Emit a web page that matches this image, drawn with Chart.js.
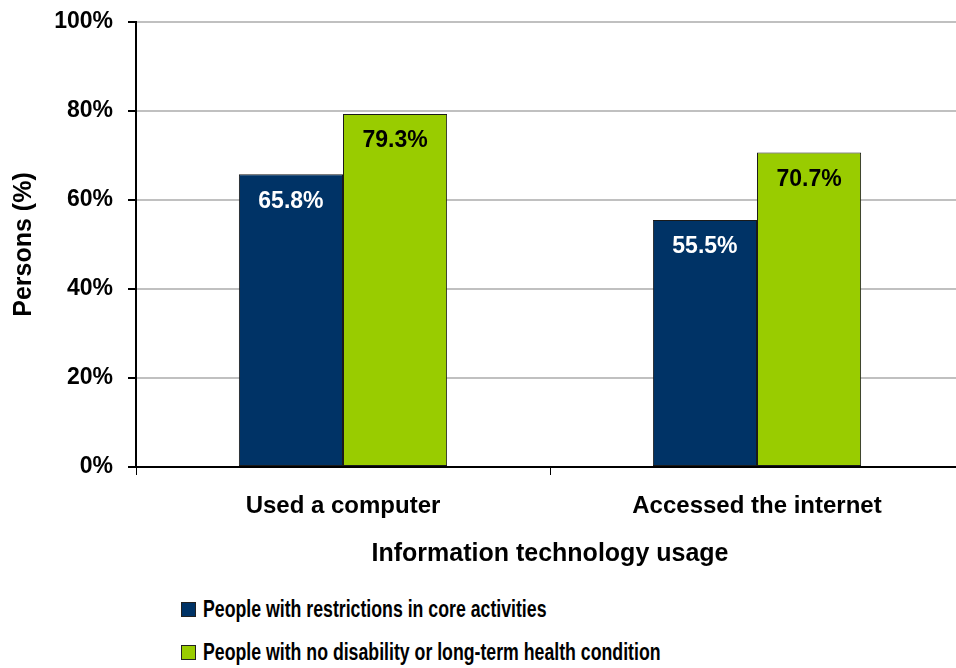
<!DOCTYPE html>
<html>
<head>
<meta charset="utf-8">
<script src="https://cdn.jsdelivr.net/npm/chart.js@4/dist/chart.umd.min.js"></script>
<style>
  html, body { margin: 0; padding: 0; background: #fff; overflow: hidden; }
  #wrap { position: relative; width: 980px; height: 580px; }
  #legend { position: absolute; left: 181px; top: 588px; font-family: 'Liberation Sans', Arial, sans-serif; font-weight: bold; font-size: 23px; color: #000; }
  .item { display: flex; align-items: center; height: 43px; }
  .box { width: 13px; height: 13px; border: 1px solid #222; margin-right: 7px; flex: none; }
  .txt { display: inline-block; transform: scaleX(0.77); transform-origin: left center; white-space: nowrap; }
</style>
</head>
<body>
<div id="wrap"><canvas id="chart"></canvas></div>
<div id="legend"></div>
<script>
// Data
const categories = ['Used a computer', 'Accessed the internet'];
const seriesNames = ['People with restrictions in core activities', 'People with no disability or long-term health condition'];
const restricted = [65.8, 55.5];
const noDisability = [79.3, 70.7];
const yTicks = [0, 20, 40, 60, 80, 100];

const colors = ['#003366', '#99cc00'];
const labelColors = ['#ffffff', '#000000'];
const fontFamily = "'Liberation Sans', Arial, sans-serif";

// Value labels drawn inside the top of each bar
const valueLabels = {
    id: 'valueLabels',
    afterDatasetsDraw(chart) {
        const ctx = chart.ctx;
        ctx.save();
        ctx.font = "bold 23px " + fontFamily;
        ctx.textAlign = 'center';
        ctx.textBaseline = 'middle';
        chart.data.datasets.forEach((ds, i) => {
            chart.getDatasetMeta(i).data.forEach((bar, j) => {
                ctx.fillStyle = labelColors[i];
                ctx.fillText(ds.data[j].toFixed(1) + '%', bar.x, bar.y + 27);
            });
        });
        ctx.restore();
    }
};

const ctx = document.getElementById('chart').getContext('2d');
const chart = new Chart(ctx, {
    type: 'bar',
    data: {
        labels: categories,
        datasets: [
            { label: seriesNames[0], data: restricted, backgroundColor: colors[0] },
            { label: seriesNames[1], data: noDisability, backgroundColor: colors[1] }
        ]
    },
    options: {
        responsive: true,
        maintainAspectRatio: false,
        animation: false,
        layout: { padding: { top: 22, right: 16, left: 0, bottom: 0 } },
        datasets: {
            bar: {
                categoryPercentage: 0.503,
                barPercentage: 1.0,
                borderColor: '#1a1a1a',
                borderWidth: 1,
                borderSkipped: false
            }
        },
        scales: {
            x: {
                afterFit(scale) { scale.height = 113; },
                grid: { display: true, drawOnChartArea: false, offset: true, tickLength: 8, tickColor: '#000' },
                border: { color: '#000', width: 2 },
                ticks: { color: '#000', padding: 17, font: { family: fontFamily, weight: 'bold', size: 24 } },
                title: {
                    display: true,
                    text: 'Information technology usage',
                    color: '#000',
                    padding: { top: 10, bottom: 11 },
                    font: { family: fontFamily, weight: 'bold', size: 25 }
                }
            },
            y: {
                min: 0,
                max: 100,
                afterBuildTicks(scale) {
                    scale.ticks = yTicks.map(v => ({ value: v }));
                },
                afterFit(scale) {
                    scale.width = 136;
                    scale.paddingTop = 0;
                    scale.paddingBottom = 0;
                },
                grid: { color: '#c0c0c0', lineWidth: 2, tickLength: 8, tickColor: '#000' },
                border: { color: '#000', width: 2 },
                ticks: {
                    color: '#000',
                    padding: 15,
                    font: { family: fontFamily, weight: 'bold', size: 23 },
                    callback: v => v + '%'
                },
                title: {
                    display: true,
                    text: 'Persons (%)',
                    color: '#000',
                    padding: { top: 9, bottom: 0 },
                    font: { family: fontFamily, weight: 'bold', size: 25 }
                }
            }
        },
        plugins: {
            legend: { display: false },
            tooltip: { enabled: false }
        }
    },
    plugins: [valueLabels]
});

// HTML legend, one series per row
const legendEl = document.getElementById('legend');
chart.data.datasets.forEach(ds => {
    const row = document.createElement('div');
    row.className = 'item';
    row.innerHTML = `<span class="box" style="background:${ds.backgroundColor}"></span><span class="txt">${ds.label}</span>`;
    legendEl.appendChild(row);
});
</script>
</body>
</html>
